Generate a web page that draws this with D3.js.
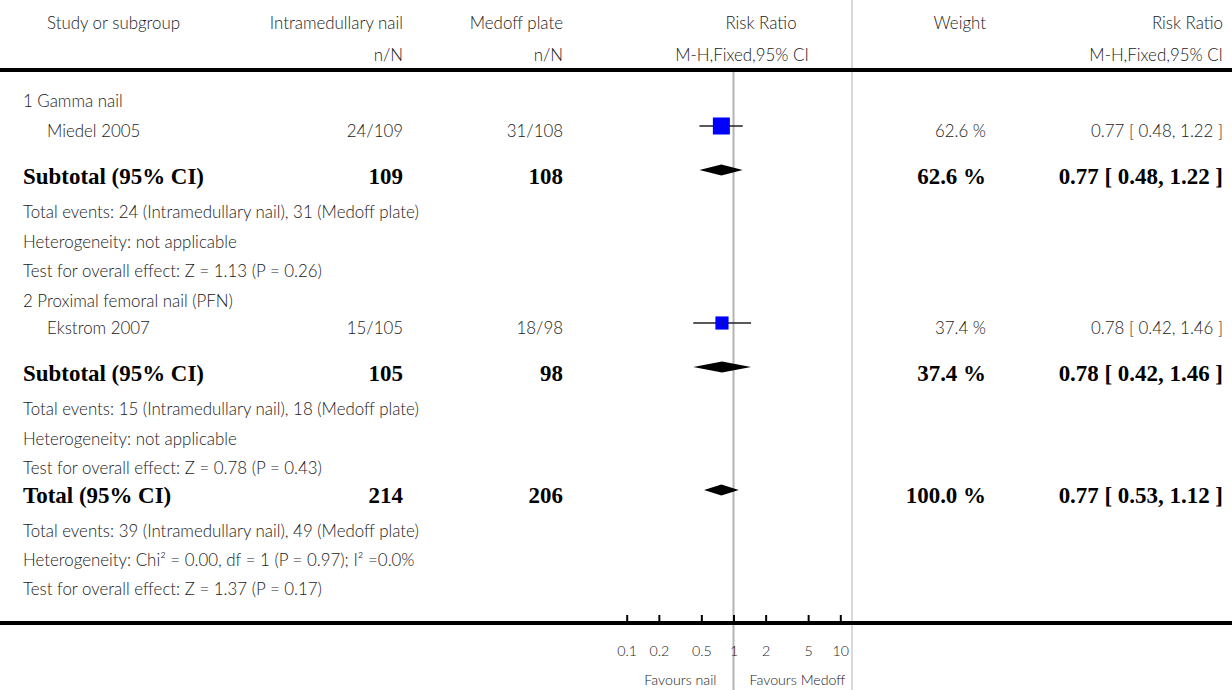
<!DOCTYPE html>
<html><head><meta charset="utf-8">
<script src="https://cdn.jsdelivr.net/npm/d3@7"></script>
<style>html,body{margin:0;padding:0;background:#fff;} svg{display:block;}</style>
</head><body><svg id="chart" width="1232" height="690"></svg>
<script>
// ---------- data ----------
const headerTop = ["Study or subgroup", "Intramedullary nail", "Medoff plate", "Risk Ratio", "Weight", "Risk Ratio"];
const headerSub = ["", "n/N", "n/N", "M-H,Fixed,95% CI", "", "M-H,Fixed,95% CI"];
const subgroupLabels = ["1 Gamma nail", "2 Proximal femoral nail (PFN)"];
const studyNames = ["Miedel 2005", "Ekstrom 2007"];
const nailEvents = [24, 15];
const nailTotal = [109, 105];
const medoffEvents = [31, 18];
const medoffTotal = [108, 98];
const studyRR = [0.77, 0.78];
const studyLow = [0.48, 0.42];
const studyHigh = [1.22, 1.46];
const studyWeight = [62.6, 37.4];
const subtotalNail = [109, 105];
const subtotalMedoff = [108, 98];
const subtotalRR = [0.77, 0.78];
const subtotalLow = [0.48, 0.42];
const subtotalHigh = [1.22, 1.46];
const subtotalWeight = [62.6, 37.4];
const subtotalStats = [
  ["Total events: 24 (Intramedullary nail), 31 (Medoff plate)", "Heterogeneity: not applicable", "Test for overall effect: Z = 1.13 (P = 0.26)"],
  ["Total events: 15 (Intramedullary nail), 18 (Medoff plate)", "Heterogeneity: not applicable", "Test for overall effect: Z = 0.78 (P = 0.43)"]
];
const totalLabel = "Total (95% CI)";
const totalNail = [214];
const totalMedoff = [206];
const totalRR = [0.77];
const totalLow = [0.53];
const totalHigh = [1.12];
const totalWeight = [100.0];
const totalStats = ["Total events: 39 (Intramedullary nail), 49 (Medoff plate)", "Heterogeneity: Chi² = 0.00, df = 1 (P = 0.97); I² =0.0%", "Test for overall effect: Z = 1.37 (P = 0.17)"];
const axisTicks = [0.1, 0.2, 0.5, 1, 2, 5, 10];
const axisTickLabels = ["0.1", "0.2", "0.5", "1", "2", "5", "10"];
const favourLabels = ["Favours nail", "Favours Medoff"];

// ---------- layout ----------
const W = 1232, H = 690;
const svg = d3.select("#chart");
const SANS = "Lato, 'Open Sans', sans-serif";
const SERIF = "'Liberation Serif', 'DejaVu Serif', serif";
const INK = "#1a1a1a";

function fitSize(family, weight, text, target) {
  const t = svg.append("text").attr("font-family", family).attr("font-weight", weight)
    .attr("font-size", 100).text(text);
  const w = t.node().getComputedTextLength();
  t.remove();
  return 100 * target / w;
}
const fsN = fitSize(SANS, 300, "Heterogeneity: not applicable", 214);
const fsB = fitSize(SERIF, 700, "Subtotal (95% CI)", 181);
const fsS = fitSize(SANS, 300, "Favours Medoff", 96);

const colX = {label: 23, study: 47, nail: 403, medoff: 563, weight: 986, ci: 1223};
const x = d3.scaleLog().domain([0.1, 10]).range([626.7, 840.3]);
const boxSide = d3.scaleSqrt().domain([0, 100]).range([0, 21.5]);
const f2 = d3.format(".2f"), f1 = d3.format(".1f");
const ciText = (r, l, h) => `${f2(r)} [ ${f2(l)}, ${f2(h)} ]`;

function txt(str, xPos, yCenter, opts = {}) {
  const bold = !!opts.bold;
  const fs = opts.fs || (bold ? fsB : fsN);
  return svg.append("text")
    .attr("x", xPos)
    .attr("y", yCenter + fs * (bold ? 0.33 : 0.36))
    .attr("text-anchor", opts.anchor || "start")
    .attr("font-family", bold ? SERIF : SANS)
    .attr("font-weight", bold ? 700 : 300)
    .attr("font-size", fs)
    .attr("fill", bold ? "#000" : INK)
    .text(str);
}

// reference / frame lines
svg.append("line").attr("x1", 852).attr("x2", 852).attr("y1", 0).attr("y2", H)
  .attr("stroke", "#d9d9d9").attr("stroke-width", 2);
svg.append("line").attr("x1", x(1)).attr("x2", x(1)).attr("y1", 72).attr("y2", H)
  .attr("stroke", "#b4b4b4").attr("stroke-width", 2);
svg.append("line").attr("x1", 0).attr("x2", W).attr("y1", 70).attr("y2", 70)
  .attr("stroke", "#000").attr("stroke-width", 4);

// headers
const hdrTopY = 23, hdrSubY = 55;
txt(headerTop[0], colX.study, hdrTopY);
txt(headerTop[1], colX.nail, hdrTopY, {anchor: "end"});
txt(headerTop[2], colX.medoff, hdrTopY, {anchor: "end"});
txt(headerTop[3], 761, hdrTopY, {anchor: "middle"});
txt(headerTop[4], colX.weight, hdrTopY, {anchor: "end"});
txt(headerTop[5], colX.ci, hdrTopY, {anchor: "end"});
txt(headerSub[1], colX.nail, hdrSubY, {anchor: "end"});
txt(headerSub[2], colX.medoff, hdrSubY, {anchor: "end"});
txt(headerSub[3], 742, hdrSubY, {anchor: "middle"});
txt(headerSub[5], colX.ci, hdrSubY, {anchor: "end"});

// groups
const groupRows = [
  {label: 101, study: 131, studyMark: 126, sub: 176.5, subMark: 170, stats: [212, 242, 271]},
  {label: 300.5, study: 328, studyMark: 323, sub: 373, subMark: 367, stats: [409, 439, 468]}
];

function diamond(r, l, h, yc, half) {
  svg.append("path")
    .attr("d", `M${x(l)},${yc}L${x(r)},${yc - half}L${x(h)},${yc}L${x(r)},${yc + half}Z`)
    .attr("fill", "#000");
}

subgroupLabels.forEach((lab, i) => {
  const g = groupRows[i];
  txt(lab, colX.label, g.label);
  // study row
  txt(studyNames[i], colX.study, g.study);
  txt(`${nailEvents[i]}/${nailTotal[i]}`, colX.nail, g.study, {anchor: "end"});
  txt(`${medoffEvents[i]}/${medoffTotal[i]}`, colX.medoff, g.study, {anchor: "end"});
  txt(`${f1(studyWeight[i])} %`, colX.weight, g.study, {anchor: "end"});
  txt(ciText(studyRR[i], studyLow[i], studyHigh[i]), colX.ci, g.study, {anchor: "end"});
  svg.append("line").attr("x1", x(studyLow[i])).attr("x2", x(studyHigh[i]))
    .attr("y1", g.studyMark).attr("y2", g.studyMark).attr("stroke", "#222").attr("stroke-width", 1.5);
  const s = boxSide(studyWeight[i]);
  svg.append("rect").attr("x", x(studyRR[i]) - s / 2).attr("y", g.studyMark - s / 2)
    .attr("width", s).attr("height", s).attr("fill", "#0000ff");
  svg.append("line").attr("x1", x(studyRR[i])).attr("x2", x(studyRR[i]))
    .attr("y1", g.studyMark - 2.5).attr("y2", g.studyMark + 2.5).attr("stroke", "#222").attr("stroke-width", 1);
  // subtotal row
  txt("Subtotal (95% CI)", colX.label, g.sub, {bold: true});
  txt(String(subtotalNail[i]), colX.nail, g.sub, {bold: true, anchor: "end"});
  txt(String(subtotalMedoff[i]), colX.medoff, g.sub, {bold: true, anchor: "end"});
  txt(`${f1(subtotalWeight[i])} %`, colX.weight, g.sub, {bold: true, anchor: "end"});
  txt(ciText(subtotalRR[i], subtotalLow[i], subtotalHigh[i]), colX.ci, g.sub, {bold: true, anchor: "end"});
  diamond(subtotalRR[i], subtotalLow[i], subtotalHigh[i], g.subMark, 5.5);
  subtotalStats[i].forEach((s2, k) => txt(s2, colX.label, g.stats[k]));
});

// overall total
const totY = 495, totMark = 490, totStatsY = [531, 560, 589];
txt(totalLabel, colX.label, totY, {bold: true});
txt(String(totalNail[0]), colX.nail, totY, {bold: true, anchor: "end"});
txt(String(totalMedoff[0]), colX.medoff, totY, {bold: true, anchor: "end"});
txt(`${f1(totalWeight[0])} %`, colX.weight, totY, {bold: true, anchor: "end"});
txt(ciText(totalRR[0], totalLow[0], totalHigh[0]), colX.ci, totY, {bold: true, anchor: "end"});
diamond(totalRR[0], totalLow[0], totalHigh[0], totMark, 5.5);
totalStats.forEach((s2, k) => txt(s2, colX.label, totStatsY[k]));

// axis
svg.append("line").attr("x1", 0).attr("x2", W).attr("y1", 623).attr("y2", 623)
  .attr("stroke", "#000").attr("stroke-width", 4);
const axisG = svg.append("g").attr("transform", "translate(0,621)")
  .call(d3.axisBottom(x).tickValues(axisTicks)
    .tickFormat((d, i) => axisTickLabels[i]).tickSize(-6).tickPadding(29.7 - 0.35 * fsS));
axisG.select(".domain").remove();
axisG.selectAll(".tick line").attr("stroke", "#000").attr("stroke-width", 2);
axisG.selectAll(".tick text").attr("font-family", SANS).attr("font-weight", 300)
  .attr("font-size", fsS).attr("fill", INK);
axisG.attr("font-size", null).attr("font-family", null);

// favours labels
txt(favourLabels[0], x(1) - 17, 680, {anchor: "end", fs: fsS});
txt(favourLabels[1], x(1) + 16, 680, {anchor: "start", fs: fsS});
</script>
</body></html>
